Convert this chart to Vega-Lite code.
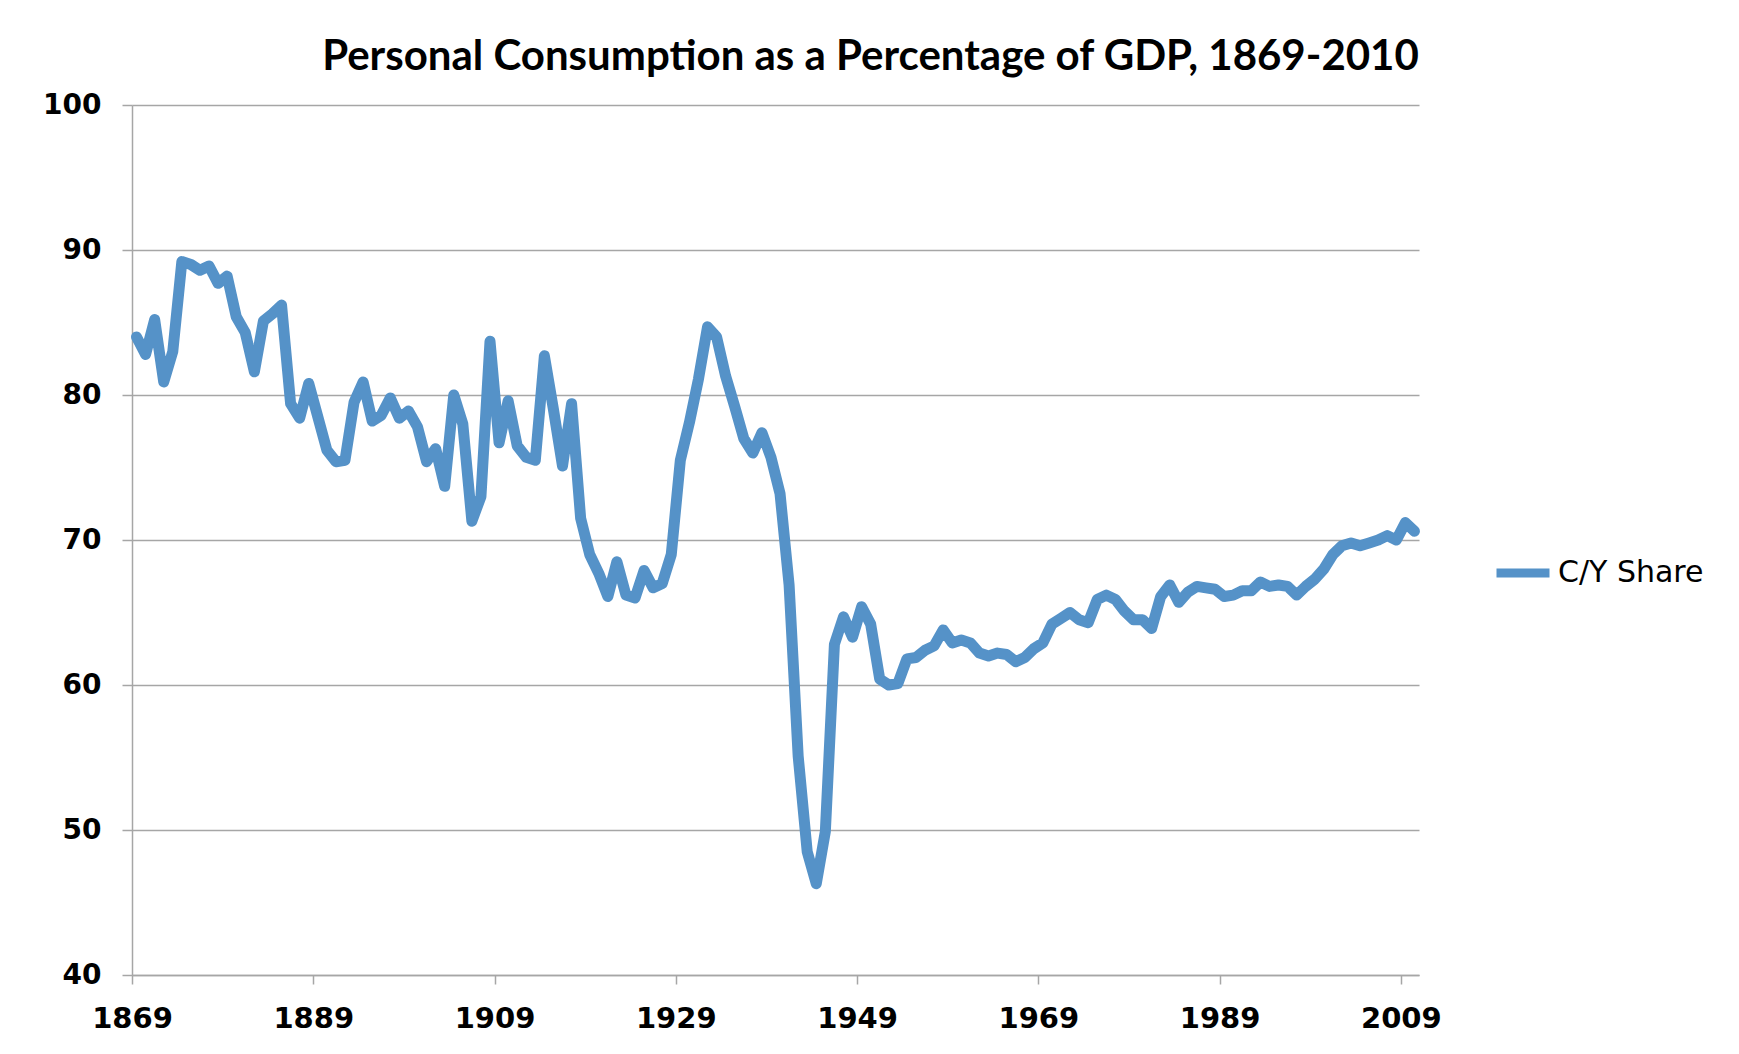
{
  "$schema": "https://vega.github.io/schema/vega-lite/v6.json",
  "autosize": "none",
  "width": 1287,
  "height": 870,
  "padding": {"left": 132, "top": 105, "right": 320, "bottom": 79},
  "background": "white",
  "title": {
    "text": "Personal Consumption as a Percentage of GDP, 1869-2010",
    "font": "Lato",
    "fontSize": 42,
    "fontWeight": "bold",
    "color": "#000000",
    "anchor": "middle",
    "frame": "group",
    "baseline": "alphabetic",
    "dx": 95,
    "dy": 51,
    "offset": 30
  },
  "config": {
    "view": {"stroke": null},
    "axis": {
      "labelFont": "DejaVu Sans",
      "labelFontWeight": "bold",
      "labelColor": "#000000",
      "gridColor": "#A6A6A6",
      "gridWidth": 1.5,
      "tickColor": "#A6A6A6",
      "tickWidth": 1.5,
      "domainColor": "#A6A6A6",
      "domainWidth": 1.5,
      "title": null
    }
  },
  "data": {
    "values": [
      {"year": 1869, "share": 84.0}, {"year": 1870, "share": 82.8}, {"year": 1871, "share": 85.2}, {"year": 1872, "share": 80.9},
      {"year": 1873, "share": 83.0}, {"year": 1874, "share": 89.2}, {"year": 1875, "share": 89.0}, {"year": 1876, "share": 88.6},
      {"year": 1877, "share": 88.9}, {"year": 1878, "share": 87.7}, {"year": 1879, "share": 88.2}, {"year": 1880, "share": 85.4},
      {"year": 1881, "share": 84.3}, {"year": 1882, "share": 81.6}, {"year": 1883, "share": 85.1}, {"year": 1884, "share": 85.6},
      {"year": 1885, "share": 86.2}, {"year": 1886, "share": 79.4}, {"year": 1887, "share": 78.4}, {"year": 1888, "share": 80.8},
      {"year": 1889, "share": 78.5}, {"year": 1890, "share": 76.2}, {"year": 1891, "share": 75.4}, {"year": 1892, "share": 75.5},
      {"year": 1893, "share": 79.5}, {"year": 1894, "share": 80.9}, {"year": 1895, "share": 78.2}, {"year": 1896, "share": 78.6},
      {"year": 1897, "share": 79.8}, {"year": 1898, "share": 78.4}, {"year": 1899, "share": 78.9}, {"year": 1900, "share": 77.8},
      {"year": 1901, "share": 75.4}, {"year": 1902, "share": 76.3}, {"year": 1903, "share": 73.7}, {"year": 1904, "share": 80.0},
      {"year": 1905, "share": 78.0}, {"year": 1906, "share": 71.3}, {"year": 1907, "share": 73.0}, {"year": 1908, "share": 83.7},
      {"year": 1909, "share": 76.7}, {"year": 1910, "share": 79.6}, {"year": 1911, "share": 76.5}, {"year": 1912, "share": 75.7},
      {"year": 1913, "share": 75.5}, {"year": 1914, "share": 82.7}, {"year": 1915, "share": 79.0}, {"year": 1916, "share": 75.1},
      {"year": 1917, "share": 79.4}, {"year": 1918, "share": 71.5}, {"year": 1919, "share": 69.0}, {"year": 1920, "share": 67.7},
      {"year": 1921, "share": 66.1}, {"year": 1922, "share": 68.5}, {"year": 1923, "share": 66.2}, {"year": 1924, "share": 66.0},
      {"year": 1925, "share": 67.9}, {"year": 1926, "share": 66.7}, {"year": 1927, "share": 67.0}, {"year": 1928, "share": 69.0},
      {"year": 1929, "share": 75.5}, {"year": 1930, "share": 78.1}, {"year": 1931, "share": 81.1}, {"year": 1932, "share": 84.7},
      {"year": 1933, "share": 84.0}, {"year": 1934, "share": 81.3}, {"year": 1935, "share": 79.2}, {"year": 1936, "share": 77.0},
      {"year": 1937, "share": 76.0}, {"year": 1938, "share": 77.4}, {"year": 1939, "share": 75.7}, {"year": 1940, "share": 73.2},
      {"year": 1941, "share": 66.9}, {"year": 1942, "share": 55.1}, {"year": 1943, "share": 48.5}, {"year": 1944, "share": 46.3},
      {"year": 1945, "share": 49.9}, {"year": 1946, "share": 62.8}, {"year": 1947, "share": 64.7}, {"year": 1948, "share": 63.3},
      {"year": 1949, "share": 65.4}, {"year": 1950, "share": 64.2}, {"year": 1951, "share": 60.4}, {"year": 1952, "share": 60.0},
      {"year": 1953, "share": 60.1}, {"year": 1954, "share": 61.8}, {"year": 1955, "share": 61.9}, {"year": 1956, "share": 62.4},
      {"year": 1957, "share": 62.7}, {"year": 1958, "share": 63.8}, {"year": 1959, "share": 62.9}, {"year": 1960, "share": 63.1},
      {"year": 1961, "share": 62.9}, {"year": 1962, "share": 62.2}, {"year": 1963, "share": 62.0}, {"year": 1964, "share": 62.2},
      {"year": 1965, "share": 62.1}, {"year": 1966, "share": 61.6}, {"year": 1967, "share": 61.9}, {"year": 1968, "share": 62.5},
      {"year": 1969, "share": 62.9}, {"year": 1970, "share": 64.2}, {"year": 1971, "share": 64.6}, {"year": 1972, "share": 65.0},
      {"year": 1973, "share": 64.5}, {"year": 1974, "share": 64.3}, {"year": 1975, "share": 65.9}, {"year": 1976, "share": 66.2},
      {"year": 1977, "share": 65.9}, {"year": 1978, "share": 65.1}, {"year": 1979, "share": 64.5}, {"year": 1980, "share": 64.5},
      {"year": 1981, "share": 63.9}, {"year": 1982, "share": 66.1}, {"year": 1983, "share": 66.9}, {"year": 1984, "share": 65.7},
      {"year": 1985, "share": 66.4}, {"year": 1986, "share": 66.8}, {"year": 1987, "share": 66.7}, {"year": 1988, "share": 66.6},
      {"year": 1989, "share": 66.1}, {"year": 1990, "share": 66.2}, {"year": 1991, "share": 66.5}, {"year": 1992, "share": 66.5},
      {"year": 1993, "share": 67.1}, {"year": 1994, "share": 66.8}, {"year": 1995, "share": 66.9}, {"year": 1996, "share": 66.8},
      {"year": 1997, "share": 66.2}, {"year": 1998, "share": 66.8}, {"year": 1999, "share": 67.3}, {"year": 2000, "share": 68.0},
      {"year": 2001, "share": 69.0}, {"year": 2002, "share": 69.6}, {"year": 2003, "share": 69.8}, {"year": 2004, "share": 69.6},
      {"year": 2005, "share": 69.8}, {"year": 2006, "share": 70.0}, {"year": 2007, "share": 70.3}, {"year": 2008, "share": 70.0},
      {"year": 2009, "share": 71.2}, {"year": 2010, "share": 70.6}
    ]
  },
  "transform": [{"calculate": "'C/Y Share'", "as": "series"}],
  "mark": {"type": "line", "strokeWidth": 11, "strokeJoin": "round", "strokeCap": "round"},
  "encoding": {
    "x": {
      "field": "year",
      "type": "quantitative",
      "scale": {"domain": [1868.5, 2010.5], "nice": false, "zero": false},
      "axis": {
        "values": [1868.5, 1888.5, 1908.5, 1928.5, 1948.5, 1968.5, 1988.5, 2008.5],
        "labelExpr": "format(datum.value + 0.5, 'd')",
        "labelDx": 4.5,
        "labelFontSize": 29,
        "labelPadding": 20,
        "tickSize": 9,
        "grid": false,
        "domain": true,
        "labelFlush": false,
        "labelOverlap": false
      }
    },
    "y": {
      "field": "share",
      "type": "quantitative",
      "scale": {"domain": [40, 100], "nice": false, "zero": false},
      "axis": {
        "values": [40, 50, 60, 70, 80, 90, 100],
        "labelFontSize": 28,
        "labelPadding": 21,
        "tickSize": 10,
        "grid": true,
        "domain": true
      }
    },
    "color": {
      "field": "series",
      "type": "nominal",
      "scale": {"range": ["#5592C8"]},
      "legend": {
        "title": null,
        "orient": "none",
        "legendX": 1360,
        "legendY": 437,
        "symbolType": "stroke",
        "symbolSize": 2809,
        "symbolStrokeWidth": 9,
        "labelFont": "DejaVu Sans",
        "labelFontSize": 30,
        "labelColor": "#000000",
        "labelOffset": 4,
        "padding": 0
      }
    }
  }
}
